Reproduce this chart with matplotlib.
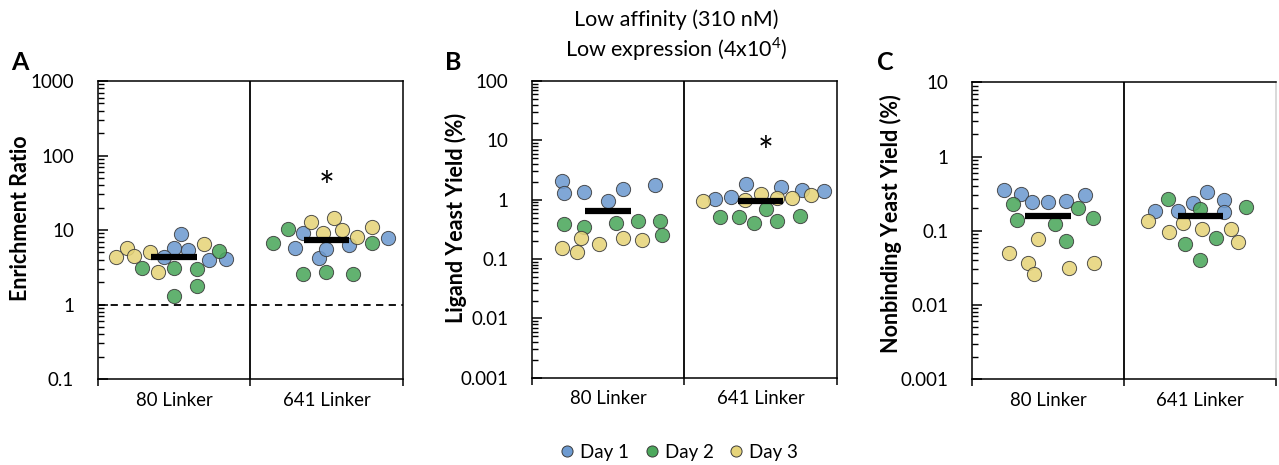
import numpy as np
import matplotlib
matplotlib.use("Agg")
import matplotlib.pyplot as plt
from matplotlib.lines import Line2D
from matplotlib.ticker import LogLocator, NullFormatter, FixedLocator


plt.rcParams["font.family"] = ["Lato", "DejaVu Sans"]
plt.rcParams["mathtext.fontset"] = "custom"
plt.rcParams["mathtext.rm"] = "Lato"


# --------------------------------------------------
# Data
# --------------------------------------------------

CATEGORIES = ["80 Linker", "641 Linker"]
DAYS = ["Day 1", "Day 2", "Day 3"]

# Panel A - enrichment ratio
A_DAY1_X = [0.547, 0.497, 0.593, 0.435, 0.731, 0.842, 1.348, 1.295, 1.449, 1.497, 1.650, 1.902]
A_DAY1_Y = [8.75, 5.68, 5.40, 4.35, 3.97, 4.13, 9.02, 5.74, 4.22, 5.62, 6.23, 7.89]
A_DAY2_X = [0.293, 0.497, 0.648, 0.648, 0.497, 0.797, 1.149, 1.245, 1.346, 1.499, 1.672, 1.799]
A_DAY2_Y = [3.07, 3.07, 3.00, 1.76, 1.32, 5.23, 6.70, 10.2, 2.57, 2.74, 2.57, 6.63]
A_DAY3_X = [0.120, 0.193, 0.239, 0.344, 0.396, 0.696, 1.396, 1.475, 1.549, 1.600, 1.698, 1.801]
A_DAY3_Y = [4.35, 5.68, 4.49, 5.13, 2.77, 6.43, 12.8, 9.21, 14.5, 10.0, 7.97, 10.9]
A_MEANS = [4.35, 7.27]

# Panel B - ligand yeast yield (%)
B_DAY1_X = [0.196, 0.207, 0.343, 0.501, 0.596, 0.807, 1.200, 1.305, 1.407, 1.635, 1.774, 1.914]
B_DAY1_Y = [2.04, 1.28, 1.33, 0.96, 1.51, 1.74, 1.04, 1.09, 1.86, 1.63, 1.46, 1.40]
B_DAY2_X = [0.209, 0.343, 0.549, 0.697, 0.840, 0.853, 1.233, 1.356, 1.455, 1.534, 1.609, 1.758]
B_DAY2_Y = [0.394, 0.351, 0.404, 0.437, 0.431, 0.257, 0.504, 0.504, 0.410, 0.696, 0.443, 0.524]
B_DAY3_X = [0.198, 0.295, 0.321, 0.440, 0.596, 0.721, 1.125, 1.398, 1.503, 1.607, 1.708, 1.829]
B_DAY3_Y = [0.155, 0.129, 0.223, 0.181, 0.229, 0.206, 0.95, 1.00, 1.25, 1.05, 1.08, 1.21]
B_MEANS = [0.644, 0.97]

# Panel C - nonbinding yeast yield (%)
C_DAY1_X = [0.213, 0.321, 0.393, 0.497, 0.618, 0.744, 1.200, 1.354, 1.449, 1.547, 1.653, 1.653]
C_DAY1_Y = [0.357, 0.312, 0.246, 0.241, 0.249, 0.303, 0.184, 0.185, 0.236, 0.332, 0.257, 0.180]
C_DAY2_X = [0.267, 0.295, 0.542, 0.696, 0.796, 0.620, 1.289, 1.499, 1.803, 1.401, 1.601, 1.497]
C_DAY2_Y = [0.231, 0.141, 0.122, 0.200, 0.147, 0.0718, 0.270, 0.196, 0.206, 0.066, 0.0796, 0.0402]
C_DAY3_X = [0.434, 0.245, 0.367, 0.408, 0.638, 0.800, 1.156, 1.388, 1.297, 1.514, 1.701, 1.746]
C_DAY3_Y = [0.0764, 0.0495, 0.0367, 0.026, 0.0314, 0.0367, 0.134, 0.128, 0.096, 0.104, 0.104, 0.071]
C_MEANS = [0.158, 0.158]

# significance markers: (x, y)
A_STAR = (1.50, 35)
B_STAR = (1.536, 5.9)


# --------------------------------------------------
# Style
# --------------------------------------------------

DAY_COLORS = ["#6E9BD1", "#4CA85C", "#E6D47A"]
EDGE = "#3a3a3a"
MS = 105


def draw_panel(ax, series, means, ylim, ylabel, label_xy, star=None,
               dashed_one=False):
    for (xs, ys), color in zip(series, DAY_COLORS):
        ax.scatter(xs, ys, s=MS, color=color, edgecolor=EDGE, linewidth=0.7,
                   alpha=0.88, zorder=3)

    for i, m in enumerate(means):
        ax.plot([i + 0.35, i + 0.65], [m, m], color="black", lw=4.5,
                solid_capstyle="butt", zorder=4)

    ax.axvline(1, color="black", lw=1.3, zorder=2)
    if dashed_one:
        ax.axhline(1, color="black", lw=1.3, ls=(0, (4, 3)), zorder=2)

    if star is not None:
        ax.text(star[0], star[1], "*", fontsize=27, ha="center", va="center")

    ax.set_yscale("log")
    ax.set_ylim(*ylim)
    ax.set_xlim(0, 2)

    decades = np.arange(np.log10(ylim[0]), np.log10(ylim[1]) + 1)
    major = [10 ** d for d in decades]
    ax.yaxis.set_major_locator(FixedLocator(major))
    ax.set_yticklabels([f"{v:g}" for v in major])
    ax.yaxis.set_minor_locator(LogLocator(base=10, subs=np.arange(2, 10)))
    ax.yaxis.set_minor_formatter(NullFormatter())
    ax.tick_params(axis="y", which="major", direction="in", length=7,
                   width=1.1, labelsize=13.5, pad=17)
    ax.tick_params(axis="y", which="minor", direction="in", length=4,
                   width=1.0)

    ax.set_xticks([0.5, 1.5])
    ax.set_xticklabels(CATEGORIES)
    ax.set_xticks([0, 1, 2], minor=True)
    ax.tick_params(axis="x", which="major", length=0, labelsize=13.4, pad=9)
    ax.tick_params(axis="x", which="minor", direction="out", length=5,
                   width=1.1)

    for side in ["left", "right", "top", "bottom"]:
        ax.spines[side].set_linewidth(1.1)

    ax.set_ylabel(ylabel, fontsize=15.5, fontweight="bold")
    ax.yaxis.set_label_coords(*label_xy)


fig = plt.figure(figsize=(12.79, 4.65), dpi=100)

ax_a = fig.add_axes([0.0764, 0.1849, 0.2385, 0.6409])
ax_b = fig.add_axes([0.4160, 0.1877, 0.2382, 0.6380])
ax_c = fig.add_axes([0.7600, 0.1849, 0.2380, 0.6380])

draw_panel(ax_a,
           [(A_DAY1_X, A_DAY1_Y), (A_DAY2_X, A_DAY2_Y), (A_DAY3_X, A_DAY3_Y)],
           A_MEANS, (0.1, 1000), "Enrichment Ratio", (-0.219, 0.54),
           star=A_STAR, dashed_one=True)
draw_panel(ax_b,
           [(B_DAY1_X, B_DAY1_Y), (B_DAY2_X, B_DAY2_Y), (B_DAY3_X, B_DAY3_Y)],
           B_MEANS, (0.001, 100), "Ligand Yeast Yield (%)", (-0.213, 0.54),
           star=B_STAR)
draw_panel(ax_c,
           [(C_DAY1_X, C_DAY1_Y), (C_DAY2_X, C_DAY2_Y), (C_DAY3_X, C_DAY3_Y)],
           C_MEANS, (0.001, 10), "Nonbinding Yeast Yield (%)",
           (-0.229, 0.525))

ax_c.spines["right"].set_color("#d0d0d0")

# panel letters
fig.text(20 / 1279, 1 - 62 / 465, "A", fontsize=18, fontweight="bold",
         ha="center", va="center")
fig.text(453 / 1279, 1 - 62 / 465, "B", fontsize=18, fontweight="bold",
         ha="center", va="center")
fig.text(885 / 1279, 1 - 62 / 465, "C", fontsize=18, fontweight="bold",
         ha="center", va="center")

# title
fig.text(676 / 1279, 1 - 20 / 465, "Low affinity (310 nM)", fontsize=15.5,
         ha="center", va="center")
fig.text(676 / 1279, 1 - 49 / 465, r"Low expression (4x10$^{4}$)",
         fontsize=15.5, ha="center", va="center")

# legend
handles = [Line2D([], [], marker="o", ls="", markersize=8,
                  markerfacecolor=c, markeredgecolor=EDGE, markeredgewidth=0.7)
           for c in DAY_COLORS]
fig.legend(handles, DAYS, loc="center", bbox_to_anchor=(679 / 1279, 13 / 465),
           ncol=3, frameon=False, fontsize=13.5, handlelength=0.8,
           handletextpad=0.3, columnspacing=0.8)

fig.savefig("out.png", dpi=100)
